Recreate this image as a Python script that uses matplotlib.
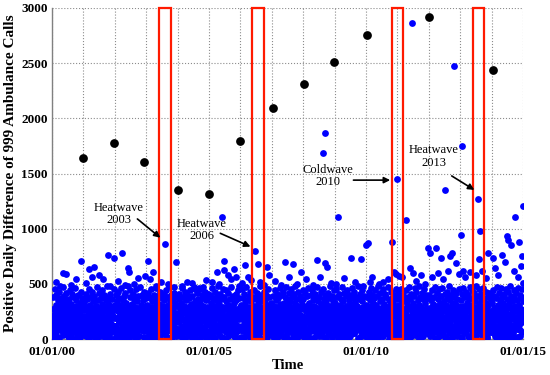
import matplotlib
matplotlib.use("Agg")
import matplotlib.pyplot as plt
from matplotlib.patches import Rectangle

# ---------------- data ----------------
# Dense daily cloud: values in tens of calls, spread evenly through each year
d2000 = [3,27,14,38,9,22,45,17,31,6,40,25,12,35,19,2,29,43,11,24,37,8,16,33,21,47,5,28,13,39,26,10,34,18,42,7,30,15,23,1,36,20,44,11,27,4,32,16,41,25,9,38,14,22,46,6,30,19,35,12,2,28,40,17,24,8,33,21,43,13,26,5,37,18,31]
d2001 = [18,4,33,26,11,41,7,29,20,36,14,2,45,23,9,31,17,38,5,27,12,43,21,34,8,16,39,25,1,30,13,47,19,6,35,24,10,42,28,15,3,37,22,32,9,44,18,26,7,40,12,29,4,35,20,14,48,25,10,33,2,38,17,23,41,6,30,13,27,36,11,21,45,8,31]
d2002 = [29,12,40,6,34,19,25,3,43,15,37,9,22,31,1,46,18,28,11,35,24,7,39,16,42,20,5,33,13,27,48,10,30,21,2,38,17,44,26,8,32,14,23,41,4,36,19,29,11,45,25,6,34,16,39,22,3,28,13,47,20,9,31,18,40,24,7,35,15,26,43,12,30,1,37]
d2003 = [7,31,20,42,13,26,4,38,17,29,10,45,22,34,2,28,15,40,24,8,36,19,11,33,46,5,27,14,39,21,1,32,18,43,25,9,30,16,37,12,23,41,6,35,20,28,3,44,15,26,10,38,31,17,48,22,8,34,13,40,27,2,29,19,36,11,24,42,5,33,16,21,39,9,30]
d2004 = [22,9,36,15,41,3,28,19,33,11,46,24,6,38,17,30,13,43,1,26,35,8,21,40,14,29,4,37,18,44,25,10,32,16,2,39,23,12,47,27,7,34,20,31,14,42,5,28,18,36,9,25,45,12,33,3,22,40,16,30,8,37,24,11,43,19,26,2,35,15,29,6,41,21,38]
d2005 = [14,40,5,27,33,18,46,9,24,37,2,30,16,43,21,11,35,7,28,39,13,25,48,4,32,19,41,10,26,36,1,23,45,15,29,8,38,20,12,34,44,6,27,17,31,3,42,22,9,36,14,25,47,11,30,19,39,5,28,16,33,24,2,41,13,35,21,7,44,26,10,37,18,29,23]
d2006 = [31,8,24,45,12,37,19,2,28,41,15,33,6,22,47,10,35,26,4,39,17,29,13,43,21,7,34,25,1,38,16,30,11,44,23,5,36,20,27,14,42,9,32,18,40,3,26,48,12,34,22,8,37,15,29,43,6,24,19,35,11,40,27,2,31,16,45,21,9,38,13,25,33,4,30]
d2007 = [5,26,39,16,30,11,44,22,8,35,19,41,2,28,14,37,24,10,46,32,17,6,40,21,29,13,43,3,33,25,9,38,18,47,12,27,36,1,31,20,42,15,7,34,23,45,10,29,38,4,26,16,41,21,33,8,48,13,36,24,2,30,19,43,11,27,39,6,22,35,15,32,9,44,18]
d2008 = [36,13,2,29,42,18,25,7,39,15,31,46,4,22,33,11,27,40,9,19,44,26,1,35,14,30,8,41,23,16,37,5,28,47,12,34,20,3,38,24,10,43,17,32,6,26,45,13,21,36,9,29,40,2,18,33,25,11,42,15,7,37,22,30,48,14,27,4,39,19,34,10,24,44,16]
d2009 = [10,33,21,45,4,28,38,14,25,1,41,19,31,8,36,23,12,47,27,6,34,17,42,29,3,22,39,15,30,9,44,20,11,35,26,2,40,18,32,13,46,24,7,37,16,28,43,5,21,33,12,38,25,9,30,48,15,1,36,22,41,27,6,19,34,11,44,23,29,14,39,3,26,17,31]
d2010 = [27,2,38,17,30,10,43,24,6,35,19,46,13,29,4,40,22,33,11,37,1,26,44,16,31,8,39,21,14,48,25,5,34,18,42,9,28,36,12,23,3,45,20,32,15,7,41,26,38,10,29,17,47,13,35,4,24,31,19,43,8,37,22,2,33,14,27,40,11,30,45,6,21,36,16]
d2011 = [19,42,7,31,24,13,37,2,28,45,16,34,9,22,40,5,27,35,18,11,44,25,1,32,38,14,21,47,8,29,36,12,41,3,26,17,33,23,6,39,30,15,46,10,20,43,27,4,35,13,31,24,48,9,38,18,2,29,42,16,26,36,11,22,45,7,33,19,40,14,28,5,37,25,12]
d2012 = [40,16,28,3,35,21,9,44,26,13,32,6,38,19,47,24,11,30,1,42,17,36,8,27,45,14,33,22,4,39,29,12,46,20,7,34,25,15,41,2,31,18,43,10,37,23,28,5,48,14,35,26,9,40,19,32,1,44,22,12,38,27,6,33,16,42,24,10,36,20,30,45,13,29,8]
d2013 = [12,35,24,1,41,17,30,46,8,26,38,14,21,43,5,33,19,28,10,40,36,2,25,47,15,31,22,9,44,18,37,6,29,42,13,24,34,3,48,20,27,11,39,16,32,45,7,23,35,12,41,28,4,30,19,46,14,37,25,9,33,21,43,1,27,38,15,31,6,42,22,17,36,11,40]
d2014 = [33,6,21,44,15,28,39,10,25,2,37,19,47,12,31,24,8,42,17,35,4,29,46,13,22,38,9,33,26,1,41,16,30,45,11,27,36,5,23,43,18,32,14,48,7,39,21,28,3,34,25,12,44,20,37,9,30,16,42,26,2,35,19,46,13,31,23,40,8,27,38,15,45,22,34]

# Low-value days (tens of calls) that make up the solid core of the cloud
c2000 = [5,18,27,2,12,23,8,30,15,21,1,26,10,17,29,4,13,24,7,20,28,11,16,3,25,9,19,30,6,14,22,0,27,12,18,5,24,9,15,28,2,20,11,26,7]
c2001 = [21,6,14,29,3,17,25,10,1,23,13,28,8,19,4,26,15,11,30,2,22,7,18,27,12,5,24,16,9,29,1,20,13,26,6,17,23,3,28,10,14,25,8,19,0]
c2002 = [12,26,3,19,9,28,15,22,5,30,11,17,1,24,14,7,27,20,2,16,25,10,29,4,18,23,8,13,21,0,27,6,15,24,11,3,19,28,9,22,16,2,25,13,20]
c2003 = [27,9,16,2,24,13,20,6,29,11,18,4,25,15,1,22,8,28,14,19,3,26,10,17,30,5,21,12,0,23,7,28,16,11,25,2,19,9,27,14,6,22,18,3,24]
c2004 = [8,22,15,29,4,19,11,26,1,17,24,6,13,28,9,20,3,25,16,10,30,5,21,14,27,2,18,12,23,7,29,15,0,20,10,26,4,17,22,8,13,28,1,19,25]
c2005 = [17,3,28,10,22,6,25,14,1,19,30,8,12,24,5,27,16,20,2,13,26,9,21,0,29,11,15,23,4,18,28,7,14,25,10,3,20,16,27,6,22,12,1,24,9]
c2006 = [2,20,11,27,7,16,24,13,29,4,18,9,25,1,22,15,28,6,12,19,26,3,17,23,10,30,5,14,21,8,27,0,18,24,11,16,2,28,13,20,6,25,9,15,22]
c2007 = [24,10,18,1,26,14,6,21,29,11,3,17,25,8,20,13,28,2,16,23,9,27,5,19,12,30,7,22,15,0,26,11,18,4,24,14,29,8,20,3,16,27,10,21,13]
c2008 = [13,28,5,20,9,25,16,2,23,11,30,7,18,14,26,1,21,10,28,4,17,24,12,19,6,29,15,3,22,8,26,13,0,20,11,27,5,17,24,9,14,2,22,18,28]
c2009 = [19,7,25,12,0,22,16,28,4,14,27,9,20,2,24,11,17,30,6,21,13,26,3,18,10,29,15,23,5,12,27,8,20,1,25,16,11,28,3,22,14,6,19,26,9]
c2010 = [6,23,14,28,10,19,2,26,17,8,21,13,29,4,24,11,16,1,27,20,7,15,25,3,18,12,30,9,22,5,14,28,0,19,26,10,16,4,23,13,27,8,21,2,17]
c2011 = [26,12,3,20,15,29,8,18,24,1,13,22,10,27,5,17,28,11,2,21,16,25,7,19,30,4,14,23,9,26,0,18,12,28,6,20,15,3,24,10,27,13,19,5,22]
c2012 = [11,24,18,4,29,9,16,21,1,26,13,7,23,28,15,3,20,10,25,17,6,27,12,19,2,30,14,22,8,24,16,0,11,28,5,21,18,9,26,13,3,20,15,25,7]
c2013 = [16,2,27,11,21,6,24,14,29,9,18,3,25,12,20,28,7,15,1,23,17,26,10,4,22,13,30,8,19,11,27,0,16,24,5,21,14,28,2,18,9,25,12,20,6]
c2014 = [9,25,13,20,3,28,17,6,22,11,27,1,15,24,8,19,29,12,4,26,16,21,7,30,14,2,23,10,18,28,5,13,25,20,0,17,9,27,11,22,15,3,24,6,19]

dense_years = list(range(2000, 2015))
dense_lists = [d2000, d2001, d2002, d2003, d2004, d2005, d2006, d2007,
               d2008, d2009, d2010, d2011, d2012, d2013, d2014]
core_lists = [c2000, c2001, c2002, c2003, c2004, c2005, c2006, c2007,
              c2008, c2009, c2010, c2011, c2012, c2013, c2014]

# Ragged upper fringe of the cloud (decimal year, calls)
fringe_dates = [2000.12, 2000.25, 2000.60, 2000.78, 2001.08, 2001.28, 2001.62, 2001.85,
                2002.10, 2002.33, 2002.60, 2002.75, 2003.12, 2003.30, 2003.70, 2003.88,
                2004.15, 2004.45, 2004.55, 2004.80, 2005.10, 2005.33, 2005.70, 2005.95,
                2006.05, 2006.25, 2006.62, 2006.75, 2007.10, 2007.30, 2007.55, 2007.80,
                2008.10, 2008.30, 2008.55, 2008.88, 2009.05, 2009.30, 2009.65, 2009.90,
                2010.20, 2010.40, 2010.70, 2010.90, 2011.15, 2011.60, 2011.75, 2011.88,
                2012.10, 2012.30, 2012.45, 2012.60, 2012.95, 2013.15, 2013.30, 2013.50,
                2013.70, 2013.82, 2014.10, 2014.20, 2014.42, 2014.70, 2014.85, 2014.93]
fringe_calls = [520, 480, 490, 545, 505, 560, 540, 480,
                530, 485, 495, 550, 545, 480, 500, 470,
                480, 510, 455, 470, 520, 495, 540, 480,
                505, 560, 520, 490, 530, 485, 560, 500,
                540, 490, 560, 505, 500, 550, 520, 480,
                560, 500, 540, 610, 560, 530, 580, 500,
                560, 600, 540, 620, 590, 560, 610, 580,
                620, 550, 640, 580, 700, 620, 560, 660]

# Sparse higher blue points (decimal year, calls)
hi_dates = [2000.36, 2000.45, 2000.93, 2001.18, 2001.35, 2001.50, 2001.77, 2001.96,
            2002.23, 2002.42, 2002.44, 2002.95, 2003.05, 2003.21, 2003.47, 2003.60,
            2003.96, 2004.30, 2004.67, 2004.90, 2005.26, 2005.40, 2005.47, 2005.49,
            2005.60, 2005.79, 2005.87, 2006.14, 2006.35, 2006.48, 2006.57, 2006.85,
            2006.90, 2007.41, 2007.67, 2007.92, 2008.45, 2008.62, 2008.69, 2008.71,
            2008.77, 2009.12, 2009.51, 2009.83, 2010.01, 2010.05, 2010.12, 2010.54,
            2010.82, 2010.97, 2011.00, 2011.05, 2011.27, 2011.40, 2011.48, 2011.50,
            2011.96, 2012.04, 2012.22, 2012.38, 2012.52, 2012.67, 2012.73, 2012.81,
            2012.88, 2013.02, 2013.05, 2013.10, 2013.56, 2013.59, 2013.63, 2013.90,
            2014.03, 2014.33, 2014.48, 2014.53, 2014.62, 2014.76, 2014.88, 2014.97,
            2014.99, 2014.99]
hi_calls = [596, 586, 707, 632, 656, 580, 762, 731,
            782, 640, 610, 574, 707, 610, 520, 859,
            695, 520, 465, 535, 604, 1103, 707, 626,
            580, 635, 565, 671, 535, 798, 680, 656,
            580, 701, 677, 604, 716, 1689, 1870, 686,
            650, 1109, 737, 725, 852, 867, 520, 520,
            882, 586, 1448, 574, 1079, 646, 2862, 596,
            828, 777, 822, 731, 1350, 755, 777, 2478,
            686, 943, 1750, 617, 1266, 725, 979, 782,
            731, 762, 937, 898, 852, 1103, 877, 755,
            1209, 510]

# Annual maxima (black)
max_dates = [2001.0, 2001.98, 2002.94, 2004.0, 2005.0, 2006.0, 2007.05,
             2008.04, 2008.97, 2010.02, 2012.0, 2014.04]
max_calls = [1641, 1777, 1605, 1351, 1315, 1795, 2094,
             2312, 2511, 2756, 2919, 2439]

# Event windows (start, end) in decimal years
event_starts = [2003.40, 2006.37, 2010.82, 2013.40]
event_ends = [2003.80, 2006.74, 2011.19, 2013.77]
event_labels = ["Heatwave\n2003", "Heatwave\n2006", "Coldwave\n2010", "Heatwave\n2013"]
label_x = [2002.12, 2004.76, 2008.80, 2012.15]
label_y = [1133, 988, 1478, 1653]
arrow_from_x = [2002.72, 2005.36, 2009.60, 2012.73]
arrow_from_y = [1088, 958, 1440, 1478]
arrow_to_x = [2003.45, 2006.32, 2010.77, 2013.45]
arrow_to_y = [918, 837, 1440, 1351]

xtick_years = list(range(2000, 2016))
xtick_text = {2000: "01/01/00", 2005: "01/01/05", 2010: "01/01/10", 2015: "01/01/15"}
yticks = [0, 500, 1000, 1500, 2000, 2500, 3000]

# ---------------- plot ----------------
plt.rcParams['font.family'] = ['Liberation Serif', 'DejaVu Serif']

fig = plt.figure(figsize=(5.5, 3.75), dpi=100)
ax = fig.add_axes([52/550, 1-339/375, (523-52)/550, (339-8)/375])

dx, dy = [], []
for yr, vals in zip(dense_years, dense_lists):
    n = len(vals)
    for i, v in enumerate(vals):
        dx.append(yr + (i + 0.5) / n)
        dy.append(v * 10)
for yr, vals in zip(dense_years, core_lists):
    n = len(vals)
    for i, v in enumerate(vals):
        dx.append(yr + (i + 0.25) / n)
        dy.append(v * 10)

blue = '#0000ff'
ms_blue = 4.9
ax.plot(dx, dy, 'o', color=blue, markersize=ms_blue, markeredgewidth=0, zorder=3)
ax.plot(fringe_dates, fringe_calls, 'o', color=blue, markersize=ms_blue, markeredgewidth=0, zorder=3)
ax.plot(hi_dates, hi_calls, 'o', color=blue, markersize=ms_blue, markeredgewidth=0, zorder=3)
ax.plot(max_dates, max_calls, 'o', color='black', markersize=6.3, markeredgewidth=0, zorder=4)

for s, e in zip(event_starts, event_ends):
    ax.add_patch(Rectangle((s, 0), e - s, 3000, fill=False, edgecolor='#ff1a00',
                           linewidth=1.6, zorder=5, clip_on=False))

for lab, lx, ly in zip(event_labels, label_x, label_y):
    ax.text(lx, ly, lab, ha='center', va='center', fontsize=9, linespacing=1.05, zorder=6)
for fx, fy, tx, ty in zip(arrow_from_x, arrow_from_y, arrow_to_x, arrow_to_y):
    ax.annotate('', xy=(tx, ty), xytext=(fx, fy),
                arrowprops=dict(arrowstyle='-|>', color='black', lw=1.2,
                                mutation_scale=9, shrinkA=0, shrinkB=0), zorder=6)

ax.set_xlim(2000, 2015)
ax.set_ylim(0, 3000)
ax.set_xticks(xtick_years)
ax.set_xticklabels([xtick_text.get(y, "") for y in xtick_years])
ax.set_yticks(yticks)
ax.tick_params(length=0, labelsize=9.5)
ax.tick_params(axis='x', pad=5)
ax.tick_params(axis='y', pad=3)
for t in ax.get_xticklabels() + ax.get_yticklabels():
    t.set_fontweight('bold')

ax.grid(True, linestyle=':', color='#8c8c8c', linewidth=0.8, zorder=0)
ax.set_axisbelow(True)
for side in ['top', 'right']:
    ax.spines[side].set_visible(False)
for side in ['left', 'bottom']:
    ax.spines[side].set_color('#808080')
    ax.spines[side].set_linewidth(1.0)

ax.set_xlabel('Time', fontsize=10.5, fontweight='bold', labelpad=1)
ax.set_ylabel('Positive Daily Difference of 999 Ambulance Calls', fontsize=11,
              fontweight='bold', labelpad=3)

fig.savefig('out.png', dpi=100)
